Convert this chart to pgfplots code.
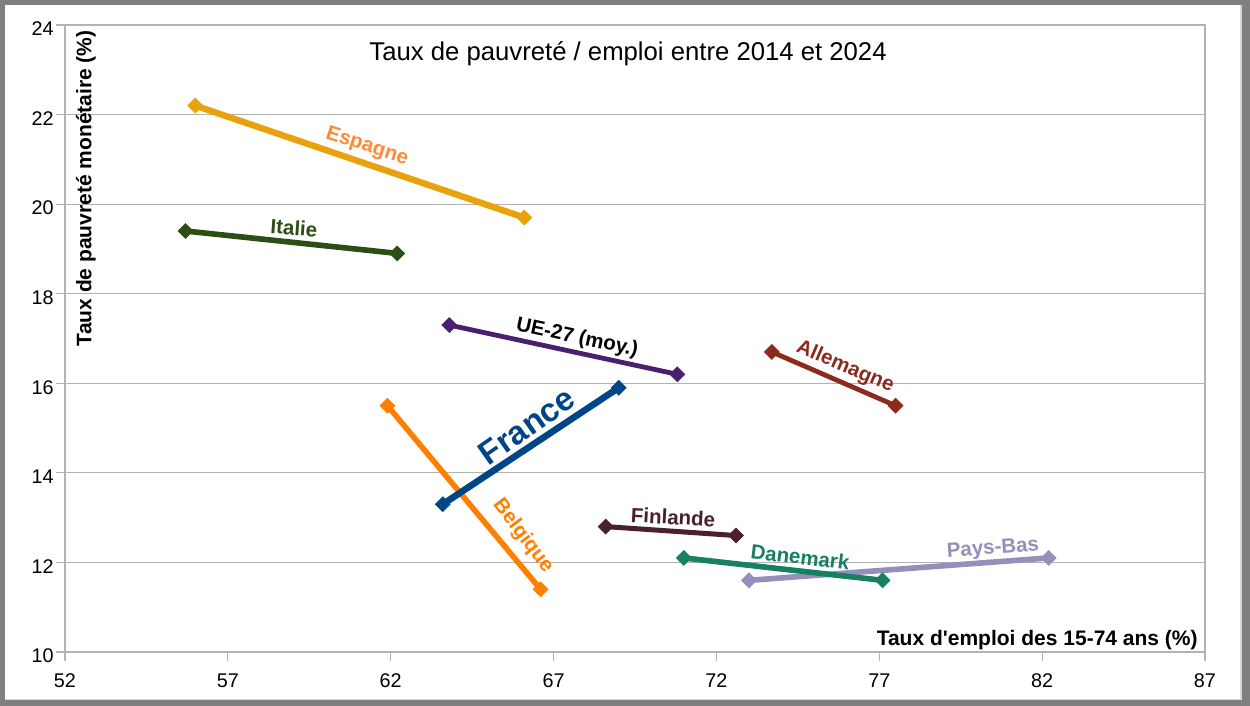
\documentclass[border=0pt]{standalone}
\usepackage{fontspec}
\setmainfont{Liberation Sans}[Ligatures=TeXOff]
\usepackage{pgfplots}
\pgfplotsset{compat=1.18}
\definecolor{gridc}{HTML}{B3B3B3}
\definecolor{framec}{HTML}{808080}
\definecolor{esp}{HTML}{E8A20E}
\definecolor{espl}{HTML}{FF8A33}
\definecolor{ita}{HTML}{2B4E15}
\definecolor{ue}{HTML}{4B1F6F}
\definecolor{ger}{HTML}{8C2A1E}
\definecolor{fra}{HTML}{004586}
\definecolor{bel}{HTML}{FF8000}
\definecolor{fin}{HTML}{4A1F30}
\definecolor{dan}{HTML}{178060}
\definecolor{nl}{HTML}{9590BB}
\newcommand{\lab}{\bfseries\fontsize{10.25}{12}\selectfont}
\begin{document}
\begin{tikzpicture}[x=1pt,y=1pt]
\useasboundingbox (-32.5,-27) rectangle (592.5,326);
\fill[framec] (-32.5,-27) rectangle (592.5,326);
\fill[white] (-30,-24) rectangle (588.5,323.5);
\fill[gray!30] (587.5,-24) rectangle (588.5,323.5);
\fill[gray!30] (-30,-24) rectangle (588.5,-23.5);
\begin{axis}[
  at={(0,0)}, anchor=south west,
  scale only axis, width=570pt, height=313.5pt,
  xmin=52, xmax=87, ymin=10, ymax=24,
  xtick={52,57,62,67,72,77,82,87},
  ytick={10,12,14,16,18,20,22,24},
  xtick pos=bottom, ytick pos=left,
  tick align=outside, major tick length=4.5pt,
  axis line style={gridc, line width=0.6pt},
  tick style={gridc, line width=0.6pt},
  ymajorgrids, grid style={gridc, line width=0.6pt},
  /pgf/number format/assume math mode=true,
  ticklabel style={font=\fontsize{9.9}{11}\selectfont, inner sep=1pt},
  yticklabel style={yshift=-2pt},
  xticklabel style={yshift=-5pt},
  every axis plot/.append style={mark=square*, mark size=2.6pt, mark options={solid, rotate=45, line width=0.4pt}},
  clip=false,
]
\addplot[esp, line width=3.2pt] coordinates {(56.0,22.2) (66.1,19.7)};
\addplot[ita, line width=2.8pt] coordinates {(55.7,19.4) (62.2,18.9)};
\addplot[ue, line width=2.4pt] coordinates {(63.8,17.3) (70.8,16.2)};
\addplot[ger, line width=2.4pt] coordinates {(73.7,16.7) (77.5,15.5)};
\addplot[bel, line width=2.8pt] coordinates {(61.9,15.5) (66.6,11.4)};
\addplot[fra, line width=3.3pt] coordinates {(63.6,13.3) (69.0,15.9)};
\addplot[fin, line width=2.5pt] coordinates {(68.6,12.8) (72.6,12.6)};
\addplot[nl, line width=2.8pt] coordinates {(73.0,11.6) (82.2,12.1)};
\addplot[dan, line width=2.8pt] coordinates {(71.0,12.1) (77.1,11.6)};
\node[espl, rotate=-18, inner sep=0pt, font=\lab] at (axis cs:61.27,21.28) {Espagne};
\node[ita, rotate=-4, inner sep=0pt, font=\lab] at (axis cs:59.03,19.47) {Italie};
\node[black, rotate=-12, inner sep=0pt, font=\lab] at (axis cs:67.72,17.01) {UE-27 (moy.)};
\node[ger, rotate=-23, inner sep=0pt, font=\lab] at (axis cs:75.95,16.36) {Allemagne};
\node[fra, rotate=35, inner sep=0pt, font=\bfseries\fontsize{16.5}{18}\selectfont] at (axis cs:66.18,15.05) {France};
\node[bel, rotate=-53, inner sep=0pt, font=\lab] at (axis cs:66.06,12.59) {Belgique};
\node[fin, rotate=-3, inner sep=0pt, font=\lab] at (axis cs:70.67,13.01) {Finlande};
\node[dan, rotate=-7, inner sep=0pt, font=\lab] at (axis cs:74.57,12.12) {Danemark};
\node[nl, rotate=4, inner sep=0pt, font=\lab] at (axis cs:80.49,12.30) {Pays-Bas};
\node[anchor=base, inner sep=0pt, font=\fontsize{12.85}{15}\selectfont] at (rel axis cs:0.4939,0.944) {Taux de pauvreté / emploi entre 2014 et 2024};
\node[rotate=90, anchor=east, inner sep=0pt, font=\bfseries\fontsize{10.5}{12}\selectfont] at (rel axis cs:0.0184,0.992) {Taux de pauvreté monétaire (\%)};
\node[anchor=base east, inner sep=0pt, font=\bfseries\fontsize{10.5}{12}\selectfont] at (rel axis cs:0.9939,0.0096) {Taux d'emploi des 15-74 ans (\%)};
\end{axis}
\end{tikzpicture}
\end{document}
